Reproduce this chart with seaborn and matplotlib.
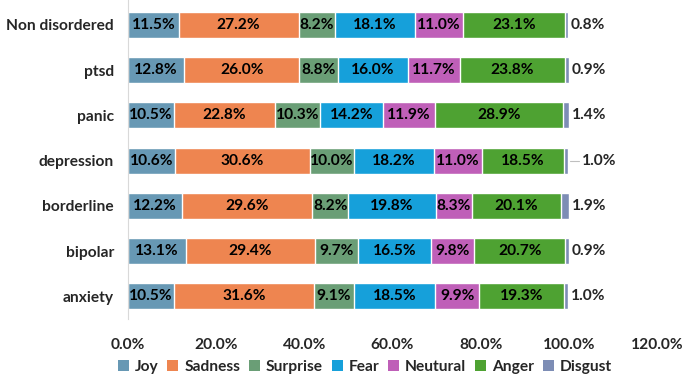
import matplotlib
matplotlib.use("Agg")
import matplotlib.pyplot as plt
import seaborn as sns
import pandas as pd
import numpy as np
from matplotlib.patches import Patch

categories = ["Non disordered", "ptsd", "panic", "depression", "borderline", "bipolar", "anxiety"]
emotions = ["Joy", "Sadness", "Surprise", "Fear", "Neutural", "Anger", "Disgust"]
joy = [11.5, 12.8, 10.5, 10.6, 12.2, 13.1, 10.5]
sadness = [27.2, 26.0, 22.8, 30.6, 29.6, 29.4, 31.6]
surprise = [8.2, 8.8, 10.3, 10.0, 8.2, 9.7, 9.1]
fear = [18.1, 16.0, 14.2, 18.2, 19.8, 16.5, 18.5]
neutural = [11.0, 11.7, 11.9, 11.0, 8.3, 9.8, 9.9]
anger = [23.1, 23.8, 28.9, 18.5, 20.1, 20.7, 19.3]
disgust = [0.8, 0.9, 1.4, 1.0, 1.9, 0.9, 1.0]
tick_labels = ["0.0%", "20.0%", "40.0%", "60.0%", "80.0%", "100.0%", "120.0%"]

colors = ["#6798b4", "#ee8550", "#6a9e76", "#16a0da", "#bf5fb8", "#4ea232", "#7d8db5"]

series = [joy, sadness, surprise, fear, neutural, anger, disgust]
vals = np.array(series) / 100.0
cum = np.cumsum(vals, axis=0)

sns.set_style("white")
plt.rcParams["font.family"] = ["Lato", "DejaVu Sans"]
plt.rcParams["font.weight"] = "bold"

FS = 11.2

fig = plt.figure(figsize=(6.85, 3.77), dpi=100)
ax = fig.add_axes([128 / 685, 1 - 319 / 377, (657 - 128) / 685, 319 / 377])

for i in range(len(emotions) - 1, -1, -1):
    df = pd.DataFrame({"cat": categories, "val": cum[i]})
    sns.barplot(data=df, x="val", y="cat", order=categories, color=colors[i],
                orient="h", width=0.57, saturation=1, ax=ax, errorbar=None)

for j, cat in enumerate(categories):
    for i in range(len(emotions) - 1):
        mid = cum[i, j] - vals[i, j] / 2
        ax.text(mid, j, f"{series[i][j]:.1f}%", ha="center", va="center",
                fontsize=FS, fontweight="bold", color="black")
    end = cum[-1, j]
    if cat == "depression":
        ax.plot([end + 0.004, end + 0.025], [j, j], color="#bfbfbf", lw=0.8)
        ax.text(end + 0.03, j, f"{disgust[j]:.1f}%", ha="left", va="center",
                fontsize=FS, fontweight="bold")
    else:
        ax.text(end + 0.006, j, f"{disgust[j]:.1f}%", ha="left", va="center",
                fontsize=FS, fontweight="bold")

ax.set_xlim(0, 1.2)
ax.set_ylim(len(categories) - 0.5, -0.55)
ax.set_xticks(np.arange(0, 1.21, 0.2))
ax.set_xticklabels(tick_labels, fontsize=FS, fontweight="bold")
ax.set_yticklabels(categories, fontsize=FS, fontweight="bold")
ax.set_xlabel("")
ax.set_ylabel("")
ax.tick_params(axis="x", length=0, pad=14)
ax.tick_params(axis="y", length=0, pad=10)
for s in ["top", "right", "bottom"]:
    ax.spines[s].set_visible(False)
ax.spines["left"].set_color("#d9d9d9")
ax.spines["left"].set_linewidth(0.8)

handles = [Patch(facecolor=c, edgecolor="none") for c in colors]
fig.legend(handles, emotions, loc="center", bbox_to_anchor=(365 / 685, 1 - 367 / 377),
           ncol=7, frameon=False, handlelength=0.7, handleheight=0.7,
           handletextpad=0.4, columnspacing=0.55, prop={"weight": "bold", "size": FS})

fig.savefig("out.png", dpi=100)
